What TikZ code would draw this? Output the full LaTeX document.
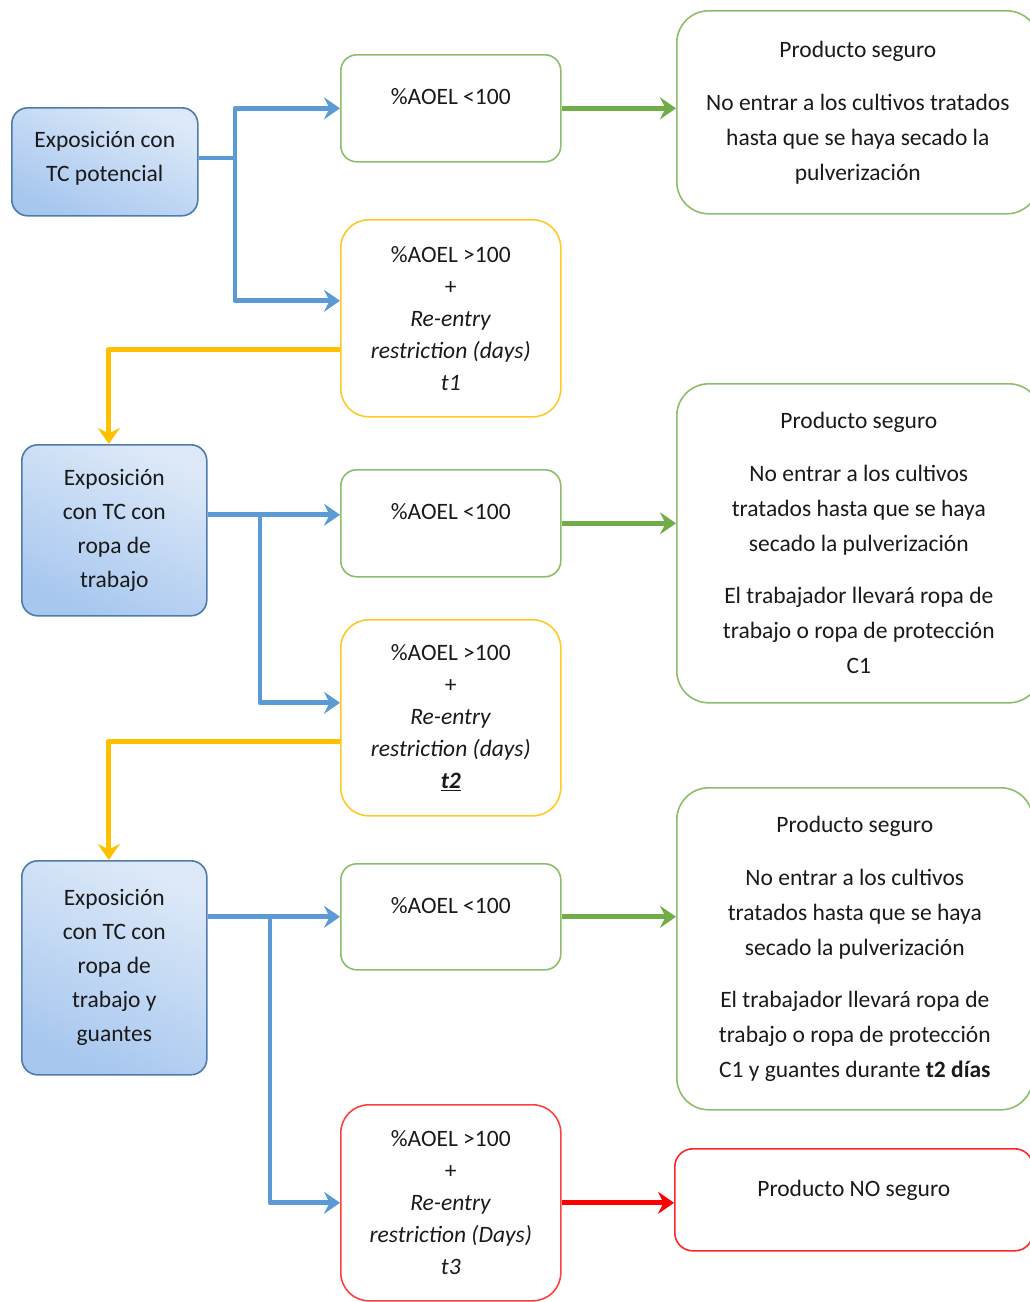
\documentclass[tikz,border=0pt]{standalone}
\usepackage{fontspec}
\setmainfont{Carlito}
\usetikzlibrary{arrows.meta}
\definecolor{bluefillA}{HTML}{DDE9F8}
\definecolor{bluefillB}{HTML}{A7C7EF}
\definecolor{blueline}{HTML}{4F7BAA}
\definecolor{conblue}{HTML}{5B9BD5}
\definecolor{gcol}{HTML}{70AD47}
\definecolor{ycol}{HTML}{FFC000}
\definecolor{rcol}{HTML}{FF0000}
\definecolor{txt}{HTML}{1A1A1A}
\tikzset{
  base/.style={rounded corners=16pt, line width=1.6pt, align=center, inner sep=0pt,
    anchor=north west, font=\fontsize{23.5}{34}\selectfont, text=txt},
  bluebox/.style={base, draw=blueline, top color=bluefillA, bottom color=bluefillB, shading angle=-25},
  greenbox/.style={base, draw=gcol!80, text height=14pt, text depth=21pt},
  yellowbox/.style={base, draw=ycol!85, rounded corners=28pt, font=\fontsize{23.5}{32}\selectfont},
  redbox/.style={base, draw=rcol!75, rounded corners=28pt, font=\fontsize{23.5}{32}\selectfont},
  rightbox/.style={base, draw=gcol!80, rounded corners=32pt, font=\fontsize{23.5}{35}\selectfont},
  redright/.style={base, draw=rcol!85, rounded corners=18pt, text height=14pt, text depth=21pt},
  tip/.style={-{Stealth[length=16pt,width=22pt,inset=5.5pt]}},
  barrow/.style={tip, draw=conblue, line width=4.8pt, line join=round},
  garrow/.style={tip, draw=gcol, line width=4.8pt},
  yarrow/.style={tip, draw=ycol, line width=5.2pt, line join=round},
  rarrow/.style={tip, draw=rcol, line width=4.8pt},
}
\begin{document}
\begin{tikzpicture}[x=1pt,y=-1pt]
\useasboundingbox (0,0) rectangle (1029,1302);
% left column
\node[bluebox, minimum width=186pt, minimum height=108pt] (A) at (11,107) {Exposición con\\TC potencial\\[-24pt]\mbox{}};
\node[bluebox, minimum width=185pt, minimum height=171pt] (B) at (21,444) {Exposición\\con TC con\\ropa de\\trabajo};
\node[bluebox, minimum width=185pt, minimum height=214pt] (C) at (21,860) {Exposición\\con TC con\\ropa de\\trabajo y\\guantes};
% middle column
\node[greenbox, minimum width=220pt, minimum height=107pt] (g1) at (340,54) {\%AOEL <100};
\node[yellowbox, minimum width=220pt, minimum height=197pt] (y1) at (340,219) {\%AOEL >100\\+\\\textit{Re-entry}\\\textit{restriction (days)}\\\textit{t1}};
\node[greenbox, minimum width=220pt, minimum height=107pt] (g2) at (340,469) {\%AOEL <100};
\node[yellowbox, minimum width=220pt, minimum height=196pt] (y2) at (340,619) {\%AOEL >100\\+\\\textit{Re-entry}\\\textit{restriction (days)}\\\underline{\textbf{\textit{t2}}}};
\node[greenbox, minimum width=220pt, minimum height=106pt] (g3) at (340,863) {\%AOEL <100};
\node[redbox, minimum width=220pt, minimum height=196pt] (r1) at (340,1104) {\%AOEL >100\\+\\\textit{Re-entry}\\\textit{restriction (Days)}\\\textit{t3}};
% right column
\node[rightbox, minimum width=362pt, minimum height=203pt] (R1) at (676,10) {Producto seguro\\[18pt]No entrar a los cultivos tratados\\hasta que se haya secado la\\pulverización};
\node[rightbox, minimum width=364pt, minimum height=319pt] (R2) at (676,383) {Producto seguro\\[18pt]No entrar a los cultivos\\tratados hasta que se haya\\secado la pulverización\\[17pt]El trabajador llevará ropa de\\trabajo o ropa de protección\\C1};
\node[rightbox, minimum width=356pt, minimum height=322pt] (R3) at (676,787) {Producto seguro\\[18pt]No entrar a los cultivos\\tratados hasta que se haya\\secado la pulverización\\[17pt]El trabajador llevará ropa de\\trabajo o ropa de protección\\C1 y guantes durante \textbf{t2 días}};
\node[redright, minimum width=358pt, minimum height=102pt] (rr) at (674,1148) {Producto NO seguro};
% junction coordinates
\coordinate (jA) at (235,158);
\coordinate (jB) at (260,514);
\coordinate (jC) at (270,917);
\coordinate (y1in) at ([yshift=17.5pt]y1.west);
\coordinate (g2in) at ([yshift=8.5pt]g2.west);
\coordinate (y2in) at ([yshift=15pt]y2.west);
\coordinate (y1out) at ([yshift=-31.5pt]y1.west);
\coordinate (y2out) at ([yshift=-24pt]y2.west);
% blue connectors
\draw[barrow] (A.east |- jA) -- (jA) |- (g1.west);
\draw[barrow] (jA) |- (y1in);
\draw[barrow] (B.east |- g2in) -- (g2in);
\draw[barrow] (jB) |- (y2in);
\draw[barrow] (C.east |- g3.west) -- (g3.west);
\draw[barrow] (jC) |- (r1.west);
% green connectors
\draw[garrow] (g1.east) -- (g1.east -| R1.west);
\draw[garrow] (g2.east) -- (g2.east -| R2.west);
\draw[garrow] (g3.east) -- (g3.east -| R3.west);
% red connector
\draw[rarrow] (r1.east) -- (r1.east -| rr.west);
% yellow connectors
\draw[yarrow] (y1out) -| ([xshift=-5.5pt]B.north);
\draw[yarrow] (y2out) -| ([xshift=-5.5pt]C.north);
\end{tikzpicture}
\end{document}
